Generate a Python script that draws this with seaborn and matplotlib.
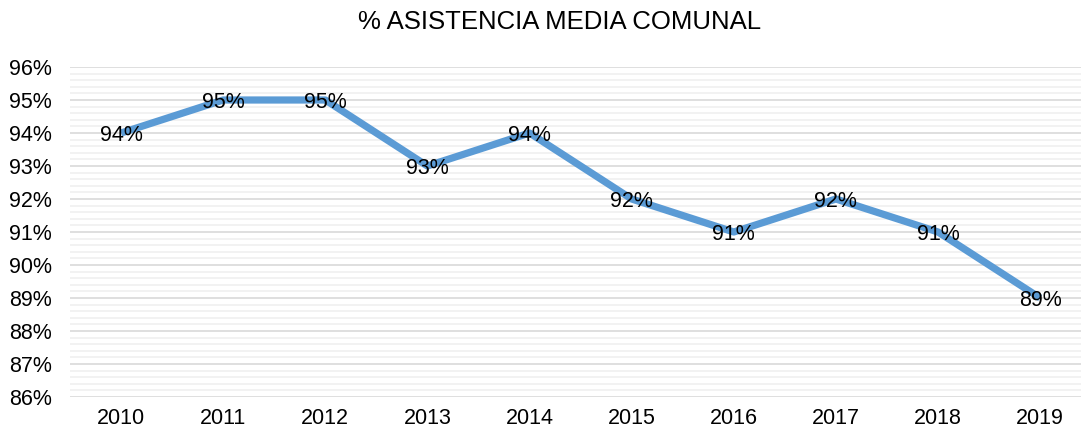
import seaborn as sns
import matplotlib.pyplot as plt
import pandas as pd
from matplotlib.ticker import MultipleLocator, FuncFormatter

# data
years = ['2010', '2011', '2012', '2013', '2014', '2015', '2016', '2017', '2018', '2019']
asistencia = [94, 95, 95, 93, 94, 92, 91, 92, 91, 89]

df = pd.DataFrame({'pos': range(len(years)), 'asistencia': asistencia})

sns.set_style('white')
plt.rcParams['font.family'] = ['Liberation Sans', 'DejaVu Sans']

fig = plt.figure(figsize=(10.81, 4.29), dpi=100)
ax = fig.add_axes([70 / 1081, 32 / 429, 1 - 70 / 1081, 330 / 429])

sns.lineplot(data=df, x='pos', y='asistencia', ax=ax, color='#5b9bd5',
             linewidth=5.2, solid_capstyle='butt', zorder=3)

for i, v in enumerate(asistencia):
    ax.text(i, v, f'{v}%', ha='center', va='center_baseline', fontsize=15.5,
            color='black', zorder=4)

ax.set_ylim(86, 96)
ax.set_xlim(-0.5, 9.4)
ax.yaxis.set_major_locator(MultipleLocator(1))
ax.yaxis.set_minor_locator(MultipleLocator(0.2))
ax.yaxis.set_major_formatter(FuncFormatter(lambda v, p: f'{v:.0f}%'))
ax.set_xticks(range(len(years)))
ax.set_xticklabels(years)
ax.grid(axis='y', which='major', color='#d9d9d9', linewidth=1.2, zorder=0)
ax.grid(axis='y', which='minor', color='#f0f0f0', linewidth=1.2, zorder=0)
ax.tick_params(axis='both', which='both', length=0, labelsize=15.5, colors='#000000')
ax.tick_params(axis='x', pad=8)
ax.tick_params(axis='y', pad=13)
for s in ax.spines.values():
    s.set_visible(False)
ax.set_xlabel('')
ax.set_ylabel('')

fig.text(0.518, 0.949, '% ASISTENCIA MEDIA COMUNAL', ha='center', va='center',
         fontsize=18.5, color='black')

fig.savefig('out.png', dpi=100)
